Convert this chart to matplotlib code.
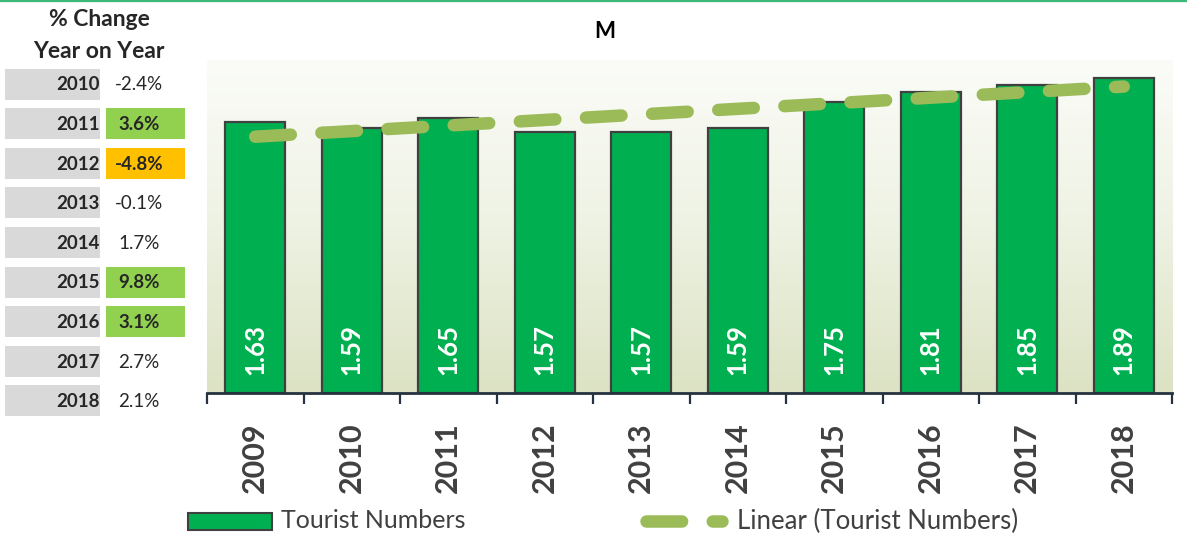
import matplotlib
matplotlib.use("Agg")
import matplotlib.pyplot as plt
import numpy as np
from matplotlib.colors import LinearSegmentedColormap
from matplotlib.patches import Rectangle
from matplotlib.lines import Line2D

# data
years = ["2009", "2010", "2011", "2012", "2013", "2014", "2015", "2016", "2017", "2018"]
tourists = [1.63, 1.59, 1.65, 1.57, 1.57, 1.59, 1.75, 1.81, 1.85, 1.89]

change_years = ["2010", "2011", "2012", "2013", "2014", "2015", "2016", "2017", "2018"]
change_labels = ["-2.4%", "3.6%", "-4.8%", "-0.1%", "1.7%", "9.8%", "3.1%", "2.7%", "2.1%"]
change_highlight = [None, "up", "down", None, None, "up", "up", None, None]

BAR_GREEN = "#00b050"
TREND = "#9bbb59"
DARK = "#404040"
AXIS_COL = "#26323f"
HL_COL = {"up": "#92d050", "down": "#ffc000"}
FONT = "Lato"
DASHES = (2.85, 2.45)

W, H = 1187, 540
fig = plt.figure(figsize=(W / 100, H / 100), dpi=100)
fig.patch.set_facecolor("white")

# main chart axes (pixel layout of the reference)
left, right, top, bottom = 207, 1172, 60, 393
ax = fig.add_axes([left / W, 1 - bottom / H, (right - left) / W, (bottom - top) / H])

x = np.arange(len(years))
ax.set_xlim(-0.5, len(years) - 0.5)
ax.set_ylim(0, 2.0)

# soft vertical gradient behind the bars
grad = LinearSegmentedColormap.from_list("bg", ["#dce2c3", "#eef2e3", "#fbfcf8"])
ax.imshow(np.linspace(0, 1, 256).reshape(-1, 1), extent=(-0.5, len(years) - 0.5, 0, 2.0),
          origin="lower", aspect="auto", cmap=grad, zorder=0)

bars = ax.bar(x, tourists, width=0.62, color=BAR_GREEN, edgecolor=DARK, linewidth=1.6, zorder=2)
for b, v in zip(bars, tourists):
    ax.annotate(f"{v:.2f}", (b.get_x() + b.get_width() / 2, 0), xytext=(0, 13),
                textcoords="offset points", rotation=90, ha="center", va="bottom",
                color="white", fontsize=18.5, fontweight="bold", family=FONT, zorder=4)

# linear trendline
coef = np.polyfit(x, tourists, 1)
trend, = ax.plot(x, np.polyval(coef, x), color=TREND, lw=9, solid_capstyle="round",
                 dash_capstyle="round", zorder=3)
trend.set_dashes(DASHES)

for s in ["top", "right", "left"]:
    ax.spines[s].set_visible(False)
ax.spines["bottom"].set_color(AXIS_COL)
ax.spines["bottom"].set_linewidth(2)
ax.set_yticks([])
ax.set_xticks(np.arange(-0.5, len(years)), minor=False)
ax.set_xticklabels([])
ax.set_xticks(x, minor=True)
ax.set_xticklabels(years, minor=True, rotation=90, fontsize=22, fontweight="bold",
                   color=DARK, family=FONT)
ax.tick_params(axis="x", which="major", length=8, width=1.6, color=AXIS_COL)
ax.tick_params(axis="x", which="minor", length=0, pad=21)

# overlay axes in pixel coordinates for table, title, legend
ov = fig.add_axes([0, 0, 1, 1], zorder=5)
ov.set_xlim(0, W)
ov.set_ylim(H, 0)
ov.axis("off")
ov.patch.set_alpha(0)

ov.plot([0, W], [0.8, 0.8], color="#3cb878", lw=1.6)
ov.text(605, 32, "M", ha="center", va="center", fontsize=16, fontweight="bold",
        color="black", family=FONT)

ov.text(99, 20, "% Change", ha="center", va="center", fontsize=16.5, fontweight="bold",
        color="#262626", family=FONT)
ov.text(99, 51, "Year on Year", ha="center", va="center", fontsize=16.5, fontweight="bold",
        color="#262626", family=FONT)

row0, pitch, rh = 84, 39.6, 31
for i, (yr, lab, hl) in enumerate(zip(change_years, change_labels, change_highlight)):
    cy = row0 + i * pitch
    ov.add_patch(Rectangle((5, cy - rh / 2), 95, rh, color="#d9d9d9", lw=0))
    ov.text(100, cy + 1, yr, ha="right", va="center", fontsize=13.5, fontweight="bold",
            color="#262626", family=FONT)
    if hl:
        ov.add_patch(Rectangle((106, cy - rh / 2), 79, rh, color=HL_COL[hl], lw=0))
    ov.text(139, cy + 1, lab, ha="center", va="center", fontsize=13.5,
            fontweight="bold" if hl else "normal", color="#262626", family=FONT)

# legend
ov.add_patch(Rectangle((188, 513), 84, 17, facecolor=BAR_GREEN, edgecolor=DARK, lw=1.5))
ov.text(281, 521, "Tourist Numbers", ha="left", va="center", fontsize=18, color=DARK, family=FONT)
leg_line = Line2D([646, 722], [521, 521], color=TREND, lw=9, dash_capstyle="round")
leg_line.set_dashes(DASHES)
ov.add_line(leg_line)
ov.text(737, 521, "Linear (Tourist Numbers)", ha="left", va="center", fontsize=18.5,
        color=DARK, family=FONT)

fig.savefig("out.png", dpi=100, facecolor="white")
